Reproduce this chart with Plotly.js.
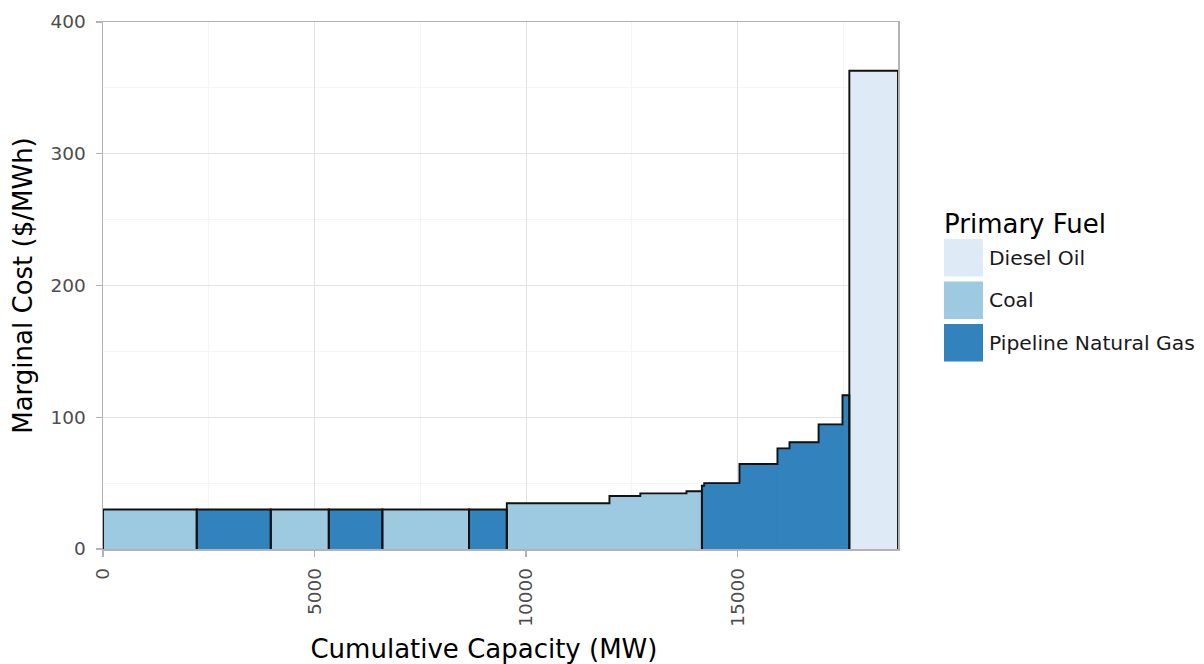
<!DOCTYPE html>
<html>
<head>
<meta charset="utf-8">
<script src="https://cdn.plot.ly/plotly-3.0.1.min.js"></script>
<style>
  html, body { margin: 0; padding: 0; background: #ffffff; }
  #chart { width: 1204px; height: 664px; }
</style>
</head>
<body>
<div id="chart"></div>
<script>
// ---- Data ----
const fuels = ['Diesel Oil', 'Coal', 'Pipeline Natural Gas'];
const fuelColors = ['#deebf7', '#9ecae1', '#3182bd'];

const plantFuel = [
  'Coal', 'Pipeline Natural Gas', 'Coal', 'Pipeline Natural Gas', 'Coal', 'Pipeline Natural Gas',
  'Coal', 'Coal', 'Coal', 'Coal',
  'Pipeline Natural Gas', 'Pipeline Natural Gas', 'Pipeline Natural Gas', 'Pipeline Natural Gas',
  'Pipeline Natural Gas', 'Pipeline Natural Gas', 'Pipeline Natural Gas',
  'Diesel Oil'
];
const plantCapacity = [2215, 1750, 1371, 1267, 2049, 892, 2426, 730, 1090, 365, 55, 833, 898, 284, 688, 565, 162, 1150];
const plantCost = [30, 30, 30, 30, 30, 30, 34.7, 40.2, 42.2, 43.8, 48, 50, 64.5, 76.4, 81, 94.6, 116.7, 363];

const xTickVals = [0, 5000, 10000, 15000];
const yTickVals = [0, 100, 200, 300, 400];

const xTitle = 'Cumulative Capacity (MW)';
const yTitle = 'Marginal Cost ($/MWh)';
const legendTitle = 'Primary Fuel';

// ---- Build traces ----
const starts = [];
let acc = 0;
plantCapacity.forEach(c => { starts.push(acc); acc += c; });
const totalCap = acc;

const traces = fuels.map((f, fi) => {
  const idx = plantFuel.map((p, i) => p === f ? i : -1).filter(i => i >= 0);
  return {
    type: 'bar',
    name: f,
    x: idx.map(i => starts[i] + plantCapacity[i] / 2),
    y: idx.map(i => plantCost[i]),
    width: idx.map(i => plantCapacity[i]),
    marker: { color: fuelColors[fi], line: { width: 1, color: fuelColors[fi] } },
    showlegend: false,
    hoverinfo: 'skip'
  };
});

// outline of each contiguous same-fuel run
const ox = [], oy = [];
let i = 0;
while (i < plantFuel.length) {
  let j = i;
  while (j + 1 < plantFuel.length && plantFuel[j + 1] === plantFuel[i]) j++;
  ox.push(starts[i]); oy.push(0);
  for (let k = i; k <= j; k++) {
    ox.push(starts[k]); oy.push(plantCost[k]);
    ox.push(starts[k] + plantCapacity[k]); oy.push(plantCost[k]);
  }
  ox.push(starts[j] + plantCapacity[j]); oy.push(0);
  ox.push(null); oy.push(null);
  i = j + 1;
}
traces.push({
  type: 'scatter', mode: 'lines', x: ox, y: oy,
  line: { color: '#111111', width: 1.9 },
  showlegend: false, hoverinfo: 'skip', cliponaxis: false
});

// ---- Custom legend (large keys) ----
const L = { left: 103, right: 898, top: 22, bottom: 549 };
const pw = L.right - L.left, ph = L.bottom - L.top;
const px = v => (v - L.left) / pw;
const py = v => (L.bottom - v) / ph;
const shapes = [], annotations = [];
annotations.push({
  xref: 'paper', yref: 'paper', x: px(942), y: py(224), xanchor: 'left', yanchor: 'middle',
  text: legendTitle, showarrow: false, font: { size: 26, color: '#000000', family: 'DejaVu Sans' }
});
fuels.forEach((f, fi) => {
  const top = 239 + fi * 42.5, bot = top + 37.5;
  shapes.push({
    type: 'rect', xref: 'paper', yref: 'paper',
    x0: px(944), x1: px(983), y0: py(bot), y1: py(top),
    fillcolor: fuelColors[fi], line: { width: 0 }
  });
  annotations.push({
    xref: 'paper', yref: 'paper', x: px(987), y: py((top + bot) / 2), xanchor: 'left', yanchor: 'middle',
    text: f, showarrow: false, font: { size: 20.3, color: '#1a1a1a', family: 'DejaVu Sans' }
  });
});

const layout = {
  width: 1204, height: 664,
  margin: { l: 103, r: 306, t: 22, b: 115, pad: 0 },
  paper_bgcolor: '#ffffff', plot_bgcolor: '#ffffff',
  font: { family: 'DejaVu Sans', color: '#4d4d4d' },
  barmode: 'overlay',
  showlegend: false,
  xaxis: {
    range: [0, totalCap], tickvals: xTickVals, ticktext: xTickVals.map(String),
    tickangle: -90, ticks: 'outside', ticklen: 6, tickcolor: '#b3b3b3', tickwidth: 1.3,
    ticklabelstandoff: 4,
    tickfont: { size: 18.5, color: '#4d4d4d' },
    showgrid: true, gridcolor: '#e3e3e3', gridwidth: 1,
    minor: { dtick: 2500, tick0: 0, showgrid: true, gridcolor: '#f5f5f5', gridwidth: 1, ticks: '' },
    zeroline: false, showline: true, mirror: true, linecolor: '#b3b3b3', linewidth: 1.5,
    automargin: false,
    title: { text: xTitle + '&nbsp;&nbsp;&nbsp;&nbsp;', font: { size: 26, color: '#000000' }, standoff: 14 }
  },
  yaxis: {
    range: [0, 400], tickvals: yTickVals, ticktext: yTickVals.map(String),
    ticks: 'outside', ticklen: 6, tickcolor: '#b3b3b3', tickwidth: 1.3,
    ticklabelstandoff: 6,
    tickfont: { size: 18.5, color: '#4d4d4d' },
    showgrid: true, gridcolor: '#e3e3e3', gridwidth: 1,
    minor: { dtick: 50, tick0: 0, showgrid: true, gridcolor: '#f5f5f5', gridwidth: 1, ticks: '' },
    zeroline: false, showline: true, mirror: true, linecolor: '#b3b3b3', linewidth: 1.5,
    automargin: false,
    title: { text: yTitle, font: { size: 26, color: '#000000' }, standoff: 10 }
  },
  shapes: shapes,
  annotations: annotations
};

Plotly.newPlot('chart', traces, layout, { displayModeBar: false, staticPlot: true });
</script>
</body>
</html>
